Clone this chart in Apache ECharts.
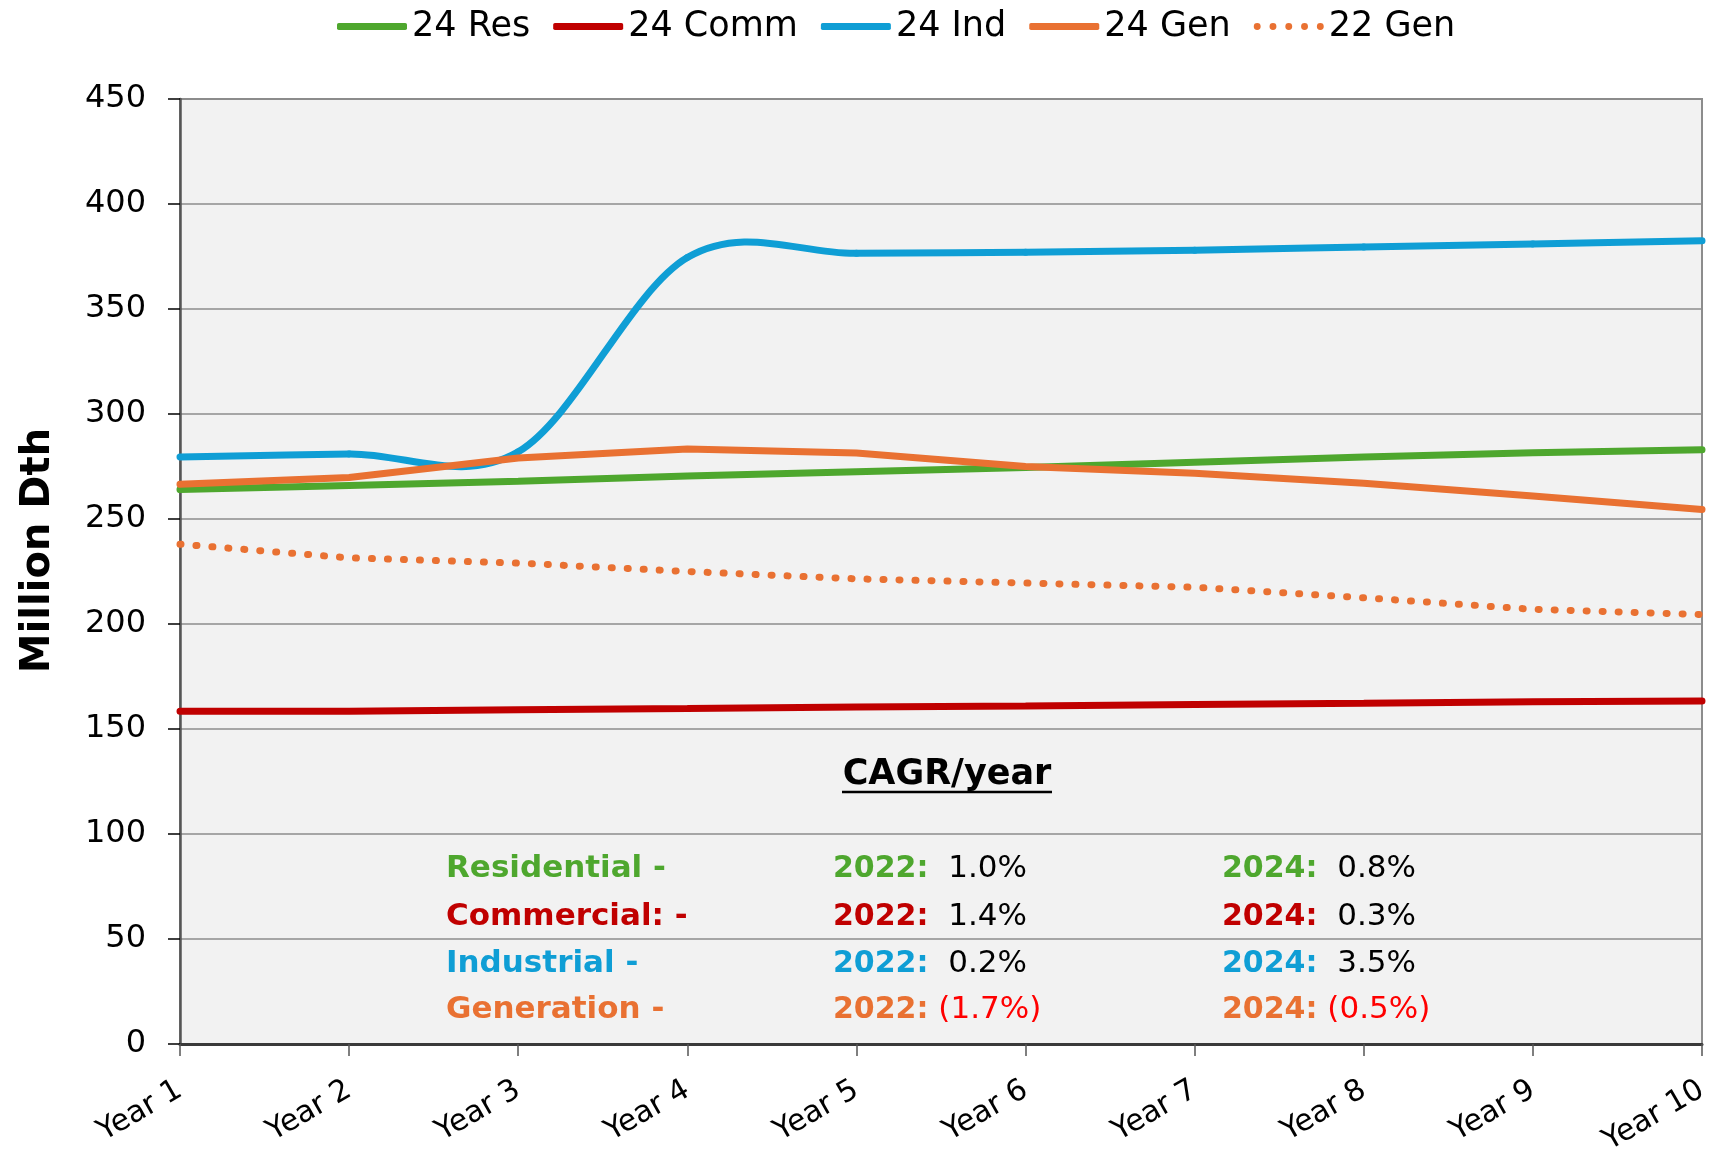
<!DOCTYPE html>
<html lang="en">
<head>
  <meta charset="UTF-8">
  <title>Gas Demand Forecast</title>
  <script src="https://cdn.jsdelivr.net/npm/echarts@6/dist/echarts.min.js"></script>
  <style>
    html, body, #chart {
      width: 100%;
      height: 100%;
      margin: 0;
      padding: 0;
      background: #fff;
    }
  </style>
</head>
<body>
  <div id="chart"></div>
  <script>
    const years = ['Year 1', 'Year 2', 'Year 3', 'Year 4', 'Year 5', 'Year 6', 'Year 7', 'Year 8', 'Year 9', 'Year 10']
    const res24 = [264, 266, 268, 270.5, 272.5, 274.5, 277, 279.5, 281.5, 283]
    const comm24 = [158.5, 158.5, 159.2, 159.8, 160.5, 161, 161.7, 162.3, 163, 163.3]
    const ind24 = [279.5, 281, 282, 374.5, 376.5, 377, 378, 379.5, 381, 382.5]
    const gen24 = [266.5, 269.8, 279, 283.3, 281.4, 275, 271.8, 267, 261, 254.5]
    const gen22 = [238, 231.5, 229, 225, 221.5, 219.5, 217.5, 212.5, 207, 204.5]

    // CAGR box
    const cagrNames = ['Residential -', 'Commercial: -', 'Industrial -', 'Generation -']
    const cagr2022 = ['1.0%', '1.4%', '0.2%', '(1.7%)']
    const cagr2024 = ['0.8%', '0.3%', '3.5%', '(0.5%)']
    const cagrColors = ['#4EA72E', '#C00000', '#0F9ED5', '#E97132']

    const FONT = 'DejaVu Sans'
    const DOTS = 'path://' + [0, 16, 32, 48, 64].map(x =>
      'M' + x + ',3.5a3.5,3.5 0 1,0 7,0a3.5,3.5 0 1,0 -7,0Z').join('') + 'M0,0M71,7'
    const chart = echarts.init(document.getElementById('chart'))

    function line(name, data, color, extra) {
      return Object.assign({
        name: name,
        type: 'line',
        data: data,
        symbol: 'none',
        smooth: false,
        lineStyle: { color: color, width: 7, cap: 'round' },
        itemStyle: { color: color },
        emphasis: { disabled: true }
      }, extra || {})
    }

    // Excel style smoothed line (Catmull-Rom bezier) through the data points
    function smoothLine(params, api) {
      if (params.dataIndex !== 0) return null
      const pts = ind24.map((v, i) => api.coord([i, v]))
      const n = pts.length
      const children = []
      for (let i = 0; i < n - 1; i++) {
        const p0 = pts[Math.max(i - 1, 0)], p1 = pts[i], p2 = pts[i + 1], p3 = pts[Math.min(i + 2, n - 1)]
        children.push({
          type: 'bezierCurve',
          shape: {
            x1: p1[0], y1: p1[1], x2: p2[0], y2: p2[1],
            cpx1: p1[0] + (p2[0] - p0[0]) / 6, cpy1: p1[1] + (p2[1] - p0[1]) / 6,
            cpx2: p2[0] - (p3[0] - p1[0]) / 6, cpy2: p2[1] - (p3[1] - p1[1]) / 6
          },
          style: { stroke: '#0F9ED5', lineWidth: 7, fill: null, lineCap: 'round' }
        })
      }
      return { type: 'group', children: children }
    }

    // text rows of the CAGR table
    const rowY = [869, 917, 964, 1010]
    const graphics = [
      {
        type: 'text', x: 947, y: 775,
        style: { text: 'CAGR/year', fontFamily: FONT, fontSize: 35, fontWeight: 'bold', fill: '#000', align: 'center', verticalAlign: 'middle' }
      },
      {
        type: 'line', shape: { x1: 842, y1: 792, x2: 1052, y2: 792 },
        style: { stroke: '#000', lineWidth: 2.5 }
      }
    ]
    cagrNames.forEach(function (n, i) {
      const neg = c => c.charAt(0) === '('
      graphics.push({
        type: 'text', x: 446, y: rowY[i],
        style: { text: n, fontFamily: FONT, fontSize: 31, fontWeight: 'bold', fill: cagrColors[i], verticalAlign: 'middle' }
      })
      ;[[833, '2022:', cagr2022[i]], [1222, '2024:', cagr2024[i]]].forEach(function (c) {
        graphics.push({
          type: 'text', x: c[0], y: rowY[i],
          style: {
            text: '{y|' + c[1] + '}' + (neg(c[2]) ? ' ' : '  ') + '{v|' + c[2] + '}',
            fontFamily: FONT, fontSize: 31, verticalAlign: 'middle',
            rich: {
              y: { fontFamily: FONT, fontSize: 30, fontWeight: 'bold', fill: cagrColors[i] },
              v: { fontFamily: FONT, fontSize: 31, fill: neg(c[2]) ? '#FF0000' : '#000' }
            }
          }
        })
      })
    })

    chart.setOption({
      animation: false,
      backgroundColor: '#fff',
      textStyle: { fontFamily: FONT },
      legend: {
        top: 4,
        left: 332,
        itemWidth: 70,
        itemHeight: 7,
        itemGap: 23,
        textStyle: { fontFamily: FONT, fontSize: 35, color: '#000' },
        data: [
          { name: '24 Res', icon: 'roundRect' },
          { name: '24 Comm', icon: 'roundRect' },
          { name: '24 Ind', icon: 'roundRect' },
          { name: '24 Gen', icon: 'roundRect' },
          { name: '22 Gen', icon: DOTS }
        ]
      },
      grid: {
        left: 180,
        right: 12,
        top: 99,
        bottom: 105,
        containLabel: false,
        outerBoundsMode: 'none',
        show: true,
        backgroundColor: '#F2F2F2',
        borderColor: '#8C8C8C',
        borderWidth: 2
      },
      xAxis: {
        type: 'category',
        data: years,
        boundaryGap: false,
        axisLine: { lineStyle: { color: '#3A3A3A', width: 3 } },
        axisTick: { show: true, length: 12, lineStyle: { color: '#555', width: 1.5 } },
        axisLabel: { interval: 0, rotate: 30, margin: 44, fontFamily: FONT, fontSize: 30, color: '#000' },
        splitLine: { show: false }
      },
      yAxis: {
        type: 'value',
        min: 0,
        max: 450,
        interval: 50,
        name: 'Million Dth',
        nameLocation: 'middle',
        nameGap: 121,
        nameTextStyle: { fontFamily: FONT, fontSize: 40, fontWeight: 'bold', color: '#000', padding: [0, 0, 0, 42] },
        axisLine: { show: true, lineStyle: { color: '#555', width: 2.5 } },
        axisTick: { show: true, length: 12, lineStyle: { color: '#000', width: 1.5 } },
        axisLabel: { margin: 34, fontFamily: FONT, fontSize: 32, color: '#000', padding: [6, 0, 0, 0] },
        splitLine: { lineStyle: { color: '#8C8C8C', width: 1.5 } }
      },
      graphic: graphics,
      series: [
        line('24 Res', res24, '#4EA72E'),
        line('24 Comm', comm24, '#C00000'),
        {
          name: '24 Ind',
          type: 'custom',
          data: ind24.map((v, i) => [i, v]),
          encode: { x: 0, y: 1 },
          itemStyle: { color: '#0F9ED5' },
          renderItem: smoothLine
        },
        line('24 Gen', gen24, '#E97132'),
        line('22 Gen', gen22, '#E97132', { lineStyle: { color: '#E97132', width: 7, type: [1, 15], cap: 'round' } })
      ]
    })
  </script>
</body>
</html>
